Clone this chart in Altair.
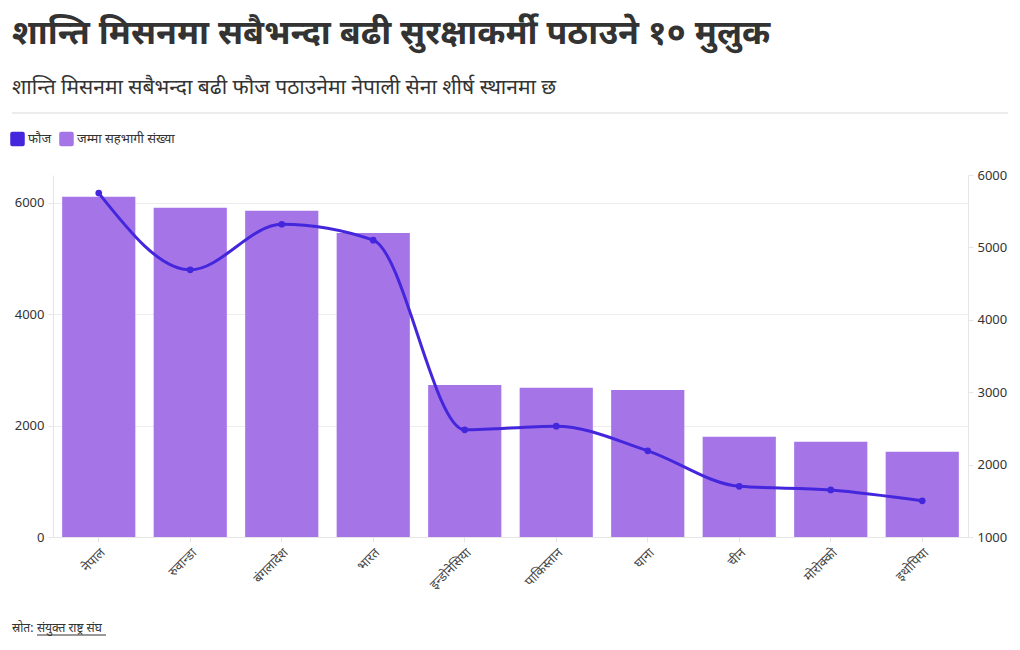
import altair as alt
import pandas as pd

countries = ["नेपाल", "रुवान्डा", "बंगलादेश", "भारत", "इन्डोनेसिया",
             "पाकिस्तान", "घाना", "चीन", "मोरोक्को", "इथोपिया"]
total = [6110, 5910, 5860, 5460, 2730, 2680, 2640, 1800, 1710, 1530]
troops = [5750, 4690, 5320, 5100, 2480, 2530, 2190, 1700, 1650, 1500]

title_text = "शान्ति मिसनमा सबैभन्दा बढी सुरक्षाकर्मी पठाउने १० मुलुक"
subtitle_text = "शान्ति मिसनमा सबैभन्दा बढी फौज पठाउनेमा नेपाली सेना शीर्ष स्थानमा छ"
src_label = "स्रोत:"
src_link = "संयुक्त राष्ट्र संघ"
legend_troops = "फौज"
legend_total = "जम्मा सहभागी संख्या"

df = pd.DataFrame({"country": countries, "total": total, "troops": troops})

FONT = "Noto Sans"
BAR = "#a575e8"
LINE = "#4427dc"

color_scale = alt.Scale(domain=[legend_troops, legend_total], range=[LINE, BAR])

x = alt.X("country:N", sort=countries, title=None,
          scale=alt.Scale(paddingInner=0.2, paddingOuter=0.1),
          axis=alt.Axis(labelAngle=-45, labelFontSize=13, labelColor="#444",
                        domainColor="#e6e6e6", tickColor="#e6e6e6", labelPadding=4))

bars = alt.Chart(df).mark_bar(color=BAR).encode(
    x=x,
    y=alt.Y("total:Q", title=None,
            scale=alt.Scale(domain=[0, 6500], nice=False),
            axis=alt.Axis(values=[0, 2000, 4000, 6000], format="d", labelFontSize=13,
                          labelColor="#333", domainColor="#e6e6e6", tickColor="#e6e6e6",
                          gridColor="#ececec", grid=True, labelPadding=4)),
    color=alt.Color("k:N", scale=color_scale,
                    legend=alt.Legend(title=None, orient="none", legendX=-43, legendY=-44,
                                      direction="horizontal",
                                      symbolType="M-0.8,-1 L0.8,-1 Q1,-1 1,-0.8 L1,0.8 Q1,1 0.8,1 L-0.8,1 Q-1,1 -1,0.8 L-1,-0.8 Q-1,-1 -0.8,-1 Z",
                                      symbolSize=170, labelFontSize=13, labelColor="#333",
                                      columnPadding=4, labelOffset=3, symbolOpacity=1,
                                      labelFont=FONT)),
).transform_calculate(k=f"'{legend_total}'")

line_y = alt.Y("troops:Q", title=None,
               scale=alt.Scale(domain=[1000, 6000], nice=False),
               axis=alt.Axis(orient="right", values=[1000, 2000, 3000, 4000, 5000, 6000],
                             format="d", labelFontSize=13, labelColor="#333", grid=False,
                             domainColor="#e6e6e6", tickColor="#e6e6e6", labelPadding=4))

line = alt.Chart(df).mark_line(color=LINE, strokeWidth=3, interpolate="monotone").encode(
    x=x, y=line_y, color=alt.Color("k:N", scale=color_scale, legend=None)
).transform_calculate(k=f"'{legend_troops}'")
pts = alt.Chart(df).mark_point(filled=True, color=LINE, size=45, opacity=1).encode(
    x=x, y=line_y
)

right = alt.layer(line, pts)
data_layer = alt.layer(bars, right).resolve_scale(y="independent")

one = pd.DataFrame({"a": [0]})
title = alt.Chart(one).mark_text(text=title_text, font=FONT, fontSize=34, fontWeight="bold",
                                 color="#333", align="left", baseline="alphabetic").encode(
    x=alt.value(-41), y=alt.value(-131))
subtitle = alt.Chart(one).mark_text(text=subtitle_text, font=FONT, fontSize=21,
                                    color="#333", align="left", baseline="alphabetic").encode(
    x=alt.value(-41), y=alt.value(-81))
sep = alt.Chart(one).mark_rule(color="#d9d9d9", strokeWidth=1).encode(
    x=alt.value(-41), x2=alt.value(955), y=alt.value(-62))
src1 = alt.Chart(one).mark_text(text=src_label, font=FONT, fontSize=12, color="#333",
                                align="left", baseline="alphabetic").encode(
    x=alt.value(-41), y=alt.value(457))
src2 = alt.Chart(one).mark_text(text=src_link, font=FONT, fontSize=12, color="#333",
                                align="left", baseline="alphabetic").encode(
    x=alt.value(-16), y=alt.value(457))
src_ul = alt.Chart(one).mark_rule(color="#333", strokeWidth=1).encode(
    x=alt.value(-16), x2=alt.value(53), y=alt.value(460))

chart = alt.layer(data_layer, title, subtitle, sep, src1, src2, src_ul).properties(
    width=915, height=362,
    autosize=alt.AutoSizeParams(type="none"),
    padding={"left": 45, "top": 167, "right": 44, "bottom": 105},
).configure_view(stroke=None).configure_axis(labelFont=FONT).configure_text(font=FONT)

chart.save("out.html", embed_options={"renderer": "svg", "actions": False})
